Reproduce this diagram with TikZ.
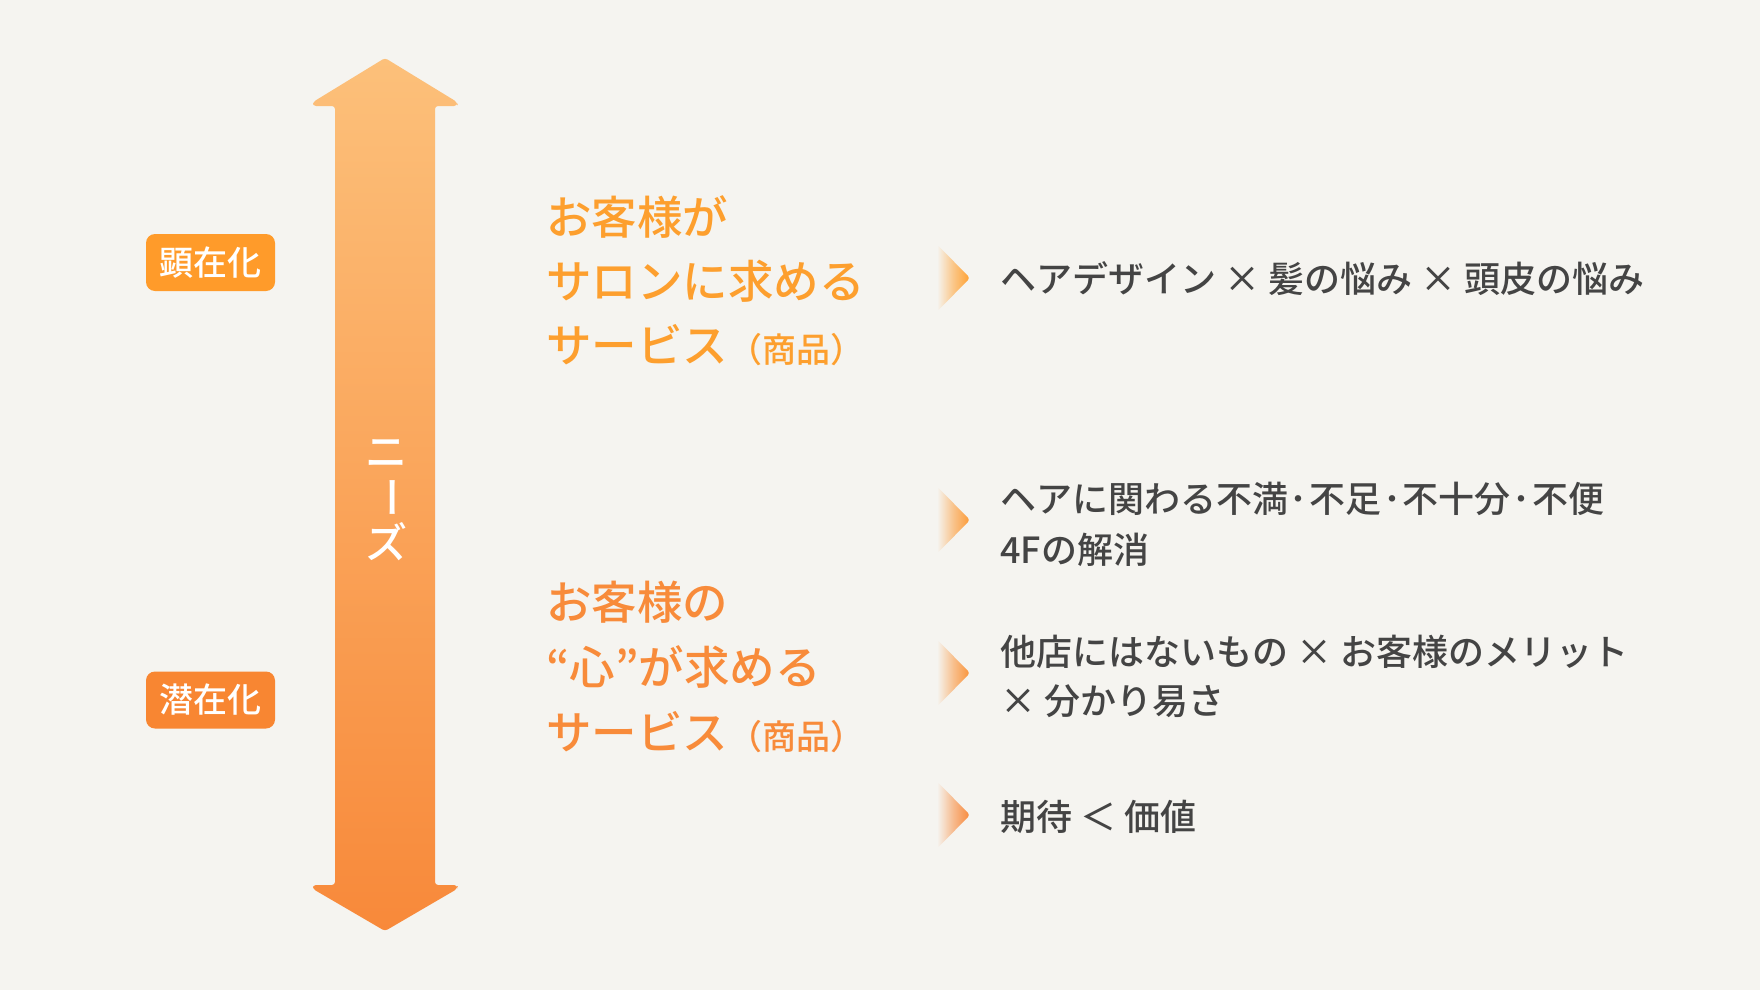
\documentclass[tikz,border=0pt]{standalone}
\usepackage{fontspec}
\setmainfont{Noto Sans CJK JP}[UprightFont=* Medium, BoldFont=* Bold]
\definecolor{bg}{HTML}{F5F4F0}
\definecolor{arrtop}{HTML}{FCC07A}
\definecolor{arrbot}{HTML}{F8893A}
\definecolor{tagA}{HTML}{FF9B2A}
\definecolor{tagB}{HTML}{F88632}
\definecolor{titleA}{HTML}{FD9F2E}
\definecolor{titleB}{HTML}{F88B3A}
\definecolor{txt}{HTML}{444444}
\definecolor{triA}{HTML}{FFA030}
\definecolor{triB}{HTML}{FC9A36}
\definecolor{triC}{HTML}{FA9339}
\definecolor{triD}{HTML}{F8893A}
\tikzset{
  tagbox/.style={rounded corners=9pt, minimum width=129pt, minimum height=57pt, inner sep=0pt,
    text=white, font=\fontsize{34}{40}\selectfont},
  titleline/.style={anchor=base west, inner sep=0pt, font=\fontsize{45.5}{52}\selectfont},
  itemline/.style={anchor=base west, inner sep=0pt, text=txt, font=\fontsize{36}{42}\selectfont},
  vchar/.style={inner sep=0pt, text=white, font=\fontsize{42}{48}\selectfont},
}
\newcommand{\smallpar}[1]{{\fontsize{34}{38}\selectfont #1}}
\newcommand{\mdot}{\kern1.7pt･\kern1.7pt}
\newcommand{\tri}[2]{%
  \shade[left color=bg, right color=#2, middle color=bg!45!#2, rounded corners=3pt]
    (937,#1-33.5) -- (970,#1) -- (937,#1+33.5) -- cycle;}
\begin{document}
\begin{tikzpicture}[x=1pt,y=-1pt]
\fill[bg] (0,0) rectangle (1760,990);
\useasboundingbox (0,0) rectangle (1760,990);

% big double arrow
\shade[top color=arrtop, bottom color=arrbot, rounded corners=3pt]
  (385,58) -- (457,102) -- (457,106) -- (435,106) -- (435,885)
  -- (457,885) -- (457,889) -- (385,931) -- (313,889) -- (313,885)
  -- (335,885) -- (335,106) -- (313,106) -- (313,102) -- cycle;

% vertical label
\node[vchar] (n1) at (386,454) {ニ};
\node[vchar, rotate=-90] (n2) at (386,497) {ー};
\node[vchar] (n3) at (386,542) {ズ};

% tags
\node[tagbox, fill=tagA] (kenzai) at (210.5,262.5) {顕在化};
\node[tagbox, fill=tagB] (senzai) at (210.5,700) {潜在化};

% titles
\node[titleline, text=titleA] (t1a) at (546,234) {お客様が};
\node[titleline, text=titleA] (t1b) at (546,298) {サロンに求める};
\node[titleline, text=titleA] (t1c) at (546,362) {サービス\smallpar{（商品）}};
\node[titleline, text=titleB] (t2a) at (546,619) {お客様の};
\node[titleline, text=titleB] (t2b) at (546,684) {“心”が求める};
\node[titleline, text=titleB] (t2c) at (546,749) {サービス\smallpar{（商品）}};

% pointers
\tri{278}{triA}
\tri{520}{triB}
\tri{673}{triC}
\tri{815}{triD}

% items
\node[itemline] (i1) at (1000,292) {ヘアデザイン × 髪の悩み × 頭皮の悩み};
\node[itemline] (i2a) at (1000,512) {ヘアに関わる不満\mdot 不足\mdot 不十分\mdot 不便};
\node[itemline] (i2b) at (1000,563) {4Fの解消};
\node[itemline] (i3a) at (1000,665) {他店にはないもの × お客様のメリット};
\node[itemline] (i3b) at (1000,714) {× 分かり易さ};
\node[itemline] (i4) at (1000,830) {期待 ＜ 価値};
\end{tikzpicture}
\end{document}
